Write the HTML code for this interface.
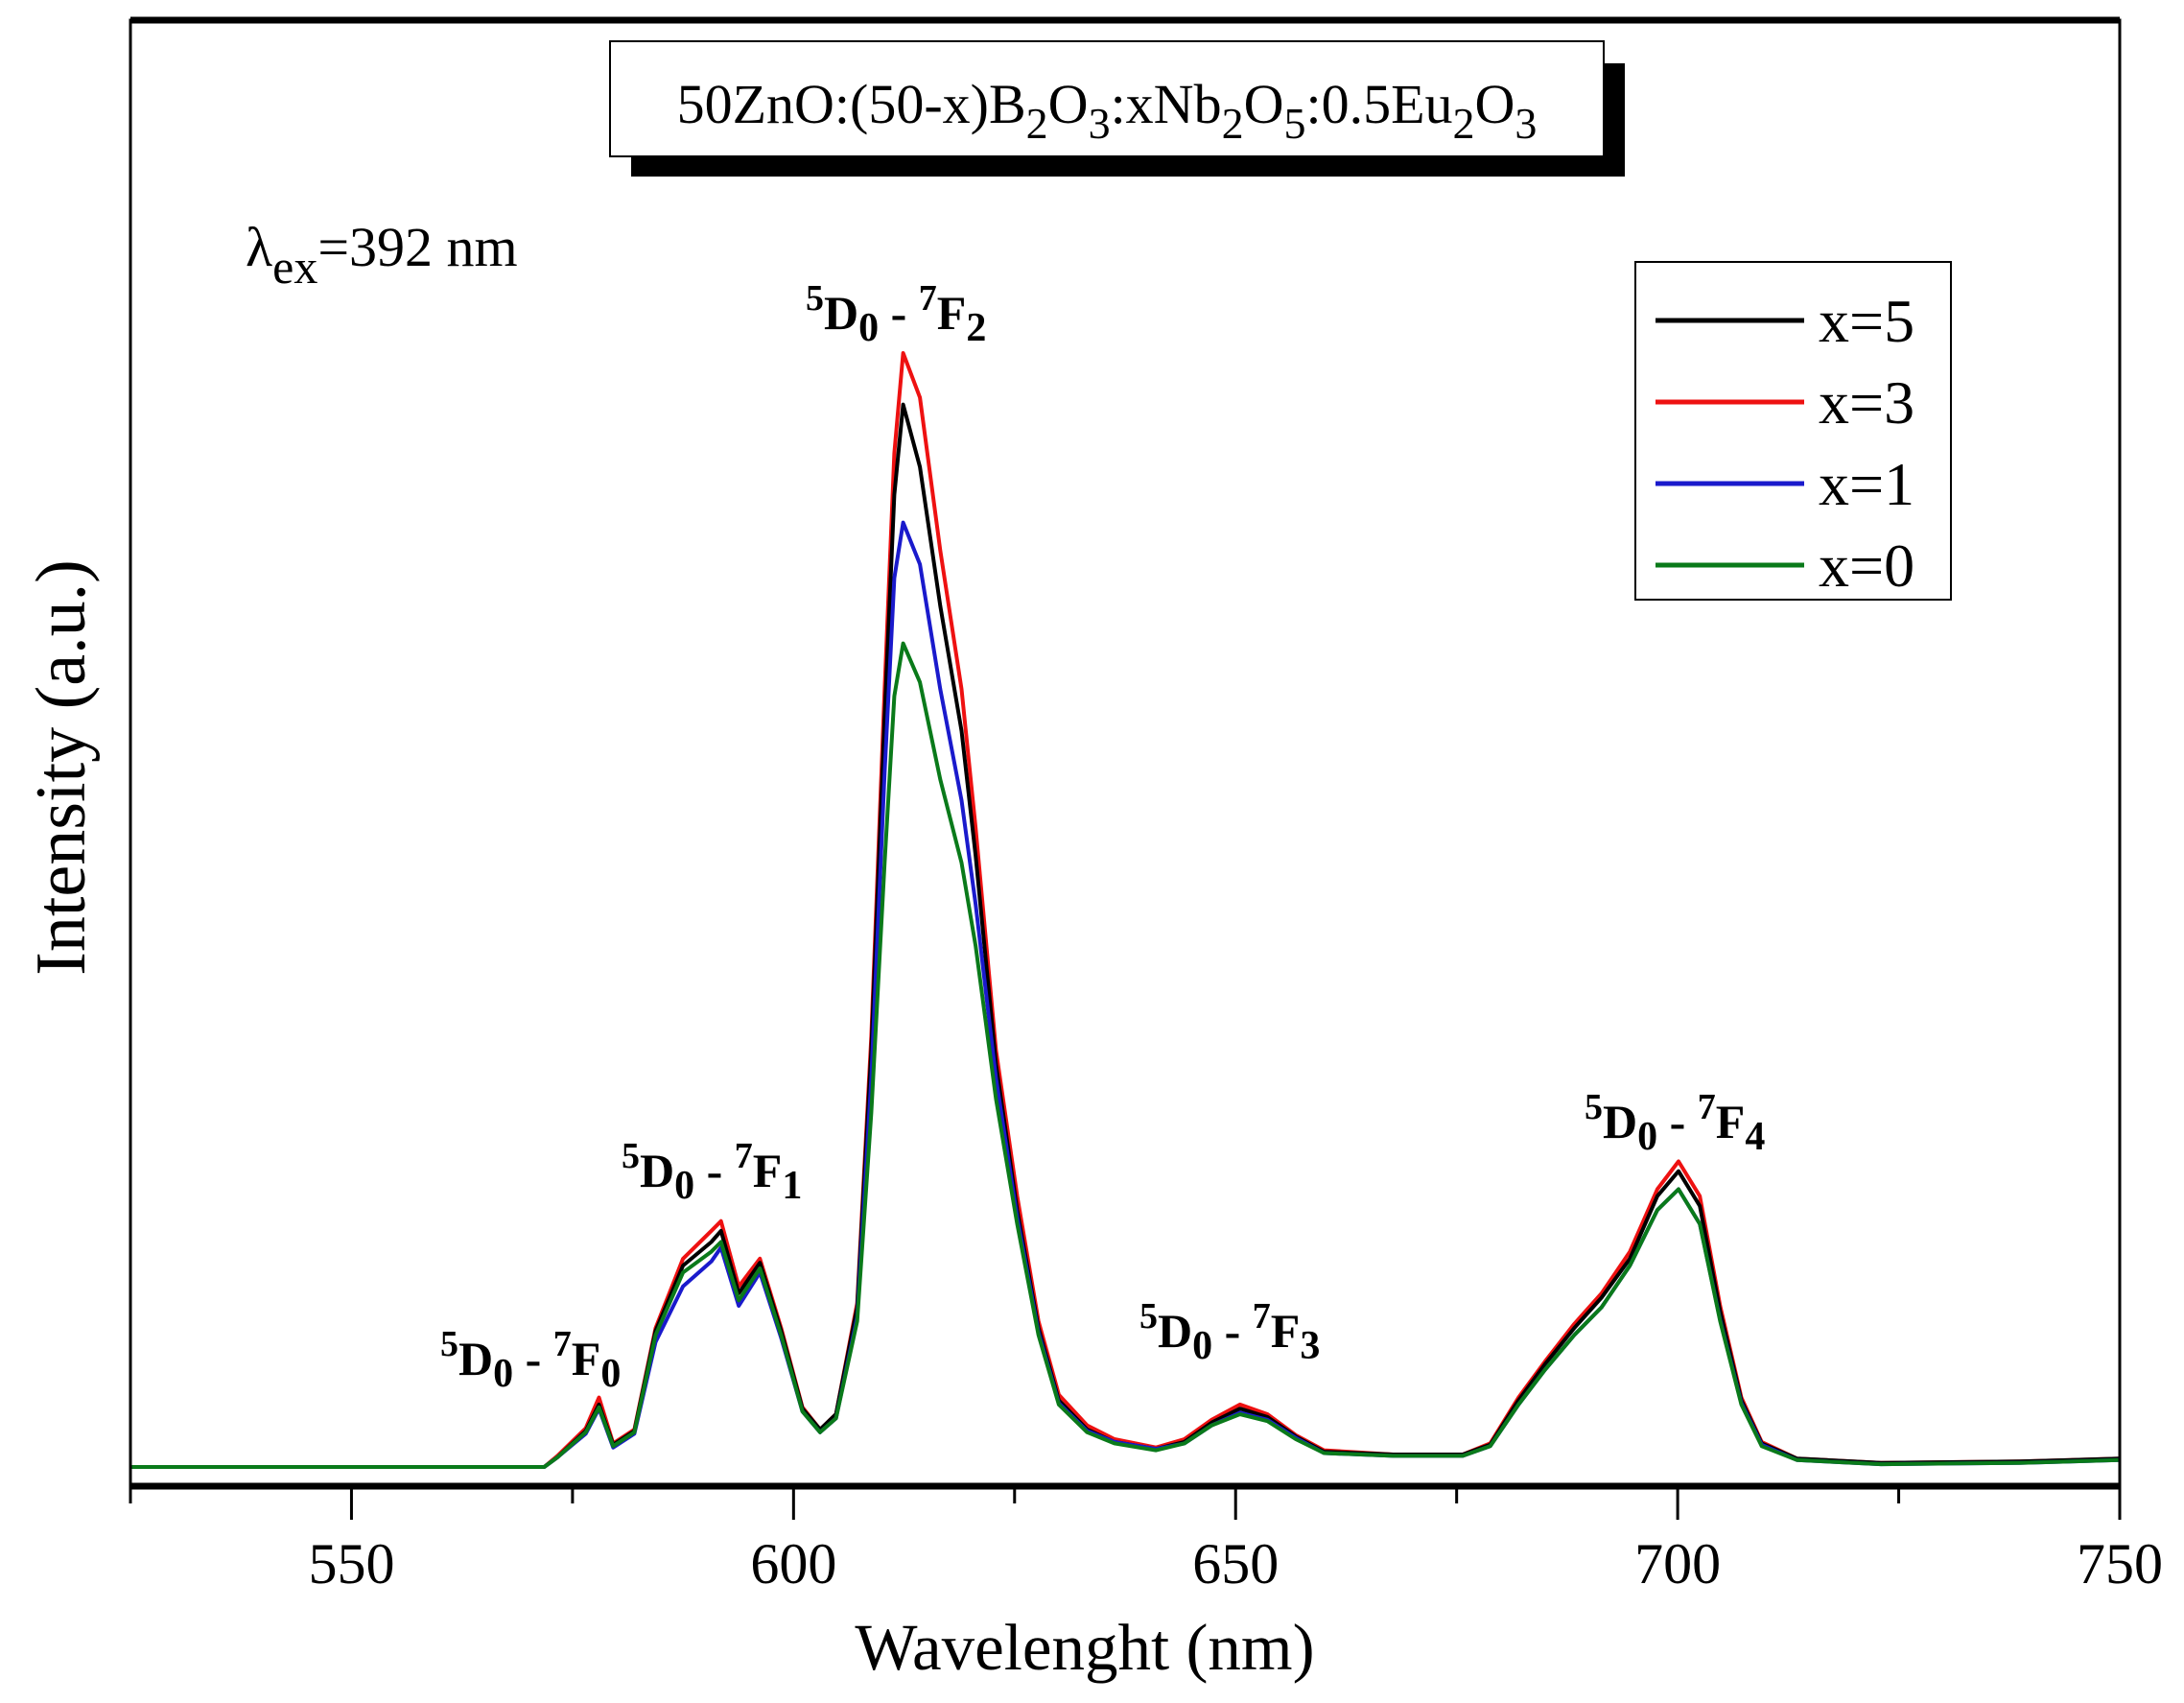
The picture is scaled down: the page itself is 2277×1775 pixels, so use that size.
<!DOCTYPE html>
<html><head><meta charset="utf-8"><style>
html,body{margin:0;padding:0;background:#fff;}
svg{display:block;font-family:"Liberation Serif",serif;}
</style></head><body>
<svg id="chart" width="2277" height="1775" viewBox="0 0 2277 1775" xmlns="http://www.w3.org/2000/svg">
<rect width="2277" height="1775" fill="#fff"/>
<g id="plot"></g>
<rect x="136" y="21" width="2074" height="1528" fill="none" stroke="#000" stroke-width="3"/>
<line x1="136" y1="21" x2="2210" y2="21" stroke="#000" stroke-width="7"/>
<line x1="136" y1="1549" x2="2210" y2="1549" stroke="#000" stroke-width="7"/>
<g id="xticks"></g>
<text x="1131" y="1740" font-size="69" text-anchor="middle">Wavelenght (nm)</text>
<text transform="translate(88,800) rotate(-90)" font-size="74" text-anchor="middle">Intensity (a.u.)</text>
<g>
<rect x="658" y="66" width="1036" height="118" fill="#000"/>
<rect x="636" y="43" width="1036" height="120" fill="#fff" stroke="#000" stroke-width="2"/>
<text x="1154" y="128" font-size="58" text-anchor="middle">50ZnO:(50-x)B<tspan dy="16" font-size="46">2</tspan><tspan dy="-16">O</tspan><tspan dy="16" font-size="46">3</tspan><tspan dy="-16">:xNb</tspan><tspan dy="16" font-size="46">2</tspan><tspan dy="-16">O</tspan><tspan dy="16" font-size="46">5</tspan><tspan dy="-16">:0.5Eu</tspan><tspan dy="16" font-size="46">2</tspan><tspan dy="-16">O</tspan><tspan dy="16" font-size="46">3</tspan></text>
</g>
<text x="256" y="277" font-size="58">λ<tspan dy="18" font-size="50">ex</tspan><tspan dy="-18">=392 nm</tspan></text>
<g font-weight="bold" font-size="50">
<text x="840" y="343"><tspan dy="-20" font-size="38">5</tspan><tspan dy="20">D</tspan><tspan dy="12" font-size="42">0</tspan><tspan dy="-12"> - </tspan><tspan dy="-20" font-size="38">7</tspan><tspan dy="20">F</tspan><tspan dy="12" font-size="42">2</tspan></text>
<text x="648" y="1237"><tspan dy="-20" font-size="38">5</tspan><tspan dy="20">D</tspan><tspan dy="12" font-size="42">0</tspan><tspan dy="-12"> - </tspan><tspan dy="-20" font-size="38">7</tspan><tspan dy="20">F</tspan><tspan dy="12" font-size="42">1</tspan></text>
<text x="459" y="1433"><tspan dy="-20" font-size="38">5</tspan><tspan dy="20">D</tspan><tspan dy="12" font-size="42">0</tspan><tspan dy="-12"> - </tspan><tspan dy="-20" font-size="38">7</tspan><tspan dy="20">F</tspan><tspan dy="12" font-size="42">0</tspan></text>
<text x="1188" y="1404"><tspan dy="-20" font-size="38">5</tspan><tspan dy="20">D</tspan><tspan dy="12" font-size="42">0</tspan><tspan dy="-12"> - </tspan><tspan dy="-20" font-size="38">7</tspan><tspan dy="20">F</tspan><tspan dy="12" font-size="42">3</tspan></text>
<text x="1652" y="1186"><tspan dy="-20" font-size="38">5</tspan><tspan dy="20">D</tspan><tspan dy="12" font-size="42">0</tspan><tspan dy="-12"> - </tspan><tspan dy="-20" font-size="38">7</tspan><tspan dy="20">F</tspan><tspan dy="12" font-size="42">4</tspan></text>
</g>
<g id="legend">
<rect x="1705" y="273" width="329" height="352" fill="#fff" stroke="#000" stroke-width="2"/>
</g>
<script>
const wavelengths=[525,560,571.8,573.3,576.5,578,579.6,582,584.4,587.5,590.7,591.8,593.8,596.2,598.6,601,603,604.8,607.2,608.8,610.3,611.4,612.4,614.3,616.6,619,620.6,622.9,625.3,627.7,630,633.2,636.3,641,644.2,647.3,650.5,653.6,656.8,660,667.8,675.7,678.8,682,685,688.3,691.4,694.6,697.7,700.1,702.5,704.8,707.2,709.5,713.5,723,738.7,750];
const seriesX5=[0,0,0,7,26,45,16,26,98,145,162,170,125,147,98,42,27,38,115,300,540,700,765,720,620,530,440,290,185,100,48,27,18,13,18,32,42,36,22,11,9,9,16,48,74,100,122,150,195,213,188,112,48,17,6,3,4,6];
const seriesX3=[0,0,0,8,28,50,17,27,100,150,170,177,130,150,100,43,27,38,118,310,560,730,802,770,660,560,460,300,195,105,52,30,20,14,20,34,45,38,23,12,9,9,17,50,76,103,125,155,200,220,195,116,50,18,6,3,4,6];
const seriesX1=[0,0,0,7,24,42,14,24,90,130,148,158,116,140,93,40,25,35,108,280,500,640,680,650,560,480,405,280,180,97,46,26,18,13,17,30,39,34,21,10,8,8,15,45,70,95,115,145,185,200,175,106,46,16,5,2,3,5];
const seriesX0=[0,0,0,7,25,43,15,25,95,140,155,162,120,143,95,40,25,35,105,255,435,555,593,565,495,435,375,265,175,95,45,25,17,12,17,30,38,33,20,10,8,8,15,45,70,95,115,145,185,200,175,105,45,15,5,2,3,5];
const seriesNames=["x=5","x=3","x=1","x=0"];
const seriesColors=["#000000","#ee1111","#1a1acc","#0a7a1a"];
const xTicks=[550,600,650,700,750];
const xMinorTicks=[525,575,625,675,725];

const X0=136,X1=2210,XMIN=525,XMAX=750,YBASE=1529,YK=1.4476;
function xs(w){return X0+(w-XMIN)/(XMAX-XMIN)*(X1-X0);}
function ys(v){return YBASE-v*YK;}
const NS="http://www.w3.org/2000/svg";
const plot=document.getElementById('plot');
const all=[seriesX5,seriesX3,seriesX1,seriesX0];
const drawOrder=[1,0,2,3];
drawOrder.forEach(i=>{
  const p=document.createElementNS(NS,'path');
  
  
  p.setAttribute('d',all[i].map((v,k)=>(k?'L':'M')+xs(wavelengths[k]).toFixed(1)+','+ys(v).toFixed(1)).join(''));
  p.setAttribute('fill','none');p.setAttribute('stroke',seriesColors[i]);
  p.setAttribute('stroke-width','4');p.setAttribute('stroke-linejoin','round');
  plot.appendChild(p);
});
const xt=document.getElementById('xticks');
xTicks.forEach(t=>{
  const l=document.createElementNS(NS,'line');
  
  
  l.setAttribute('x1',xs(t));l.setAttribute('x2',xs(t));l.setAttribute('y1',1549);l.setAttribute('y2',1584);
  l.setAttribute('stroke','#000');l.setAttribute('stroke-width','3');xt.appendChild(l);
  const tx=document.createElementNS(NS,'text');
  
  
  tx.setAttribute('x',xs(t));tx.setAttribute('y',1650);tx.setAttribute('font-size','60');tx.setAttribute('text-anchor','middle');
  tx.textContent=t;xt.appendChild(tx);
});
xMinorTicks.forEach(t=>{
  const l=document.createElementNS(NS,'line');
  
  
  l.setAttribute('x1',xs(t));l.setAttribute('x2',xs(t));l.setAttribute('y1',1549);l.setAttribute('y2',1567);
  l.setAttribute('stroke','#000');l.setAttribute('stroke-width','3');xt.appendChild(l);
});
const lg=document.getElementById('legend');
seriesNames.forEach((n,i)=>{
  const y=334+i*85;
  const l=document.createElementNS(NS,'line');
  
  
  l.setAttribute('x1',1726);l.setAttribute('x2',1881);l.setAttribute('y1',y);l.setAttribute('y2',y);
  l.setAttribute('stroke',seriesColors[i]);l.setAttribute('stroke-width','5');lg.appendChild(l);
  const t=document.createElementNS(NS,'text');
  
  
  t.setAttribute('x',1896);t.setAttribute('y',y+22);t.setAttribute('font-size','64');
  t.textContent=n;lg.appendChild(t);
});
</script>
</svg>
</body></html>
